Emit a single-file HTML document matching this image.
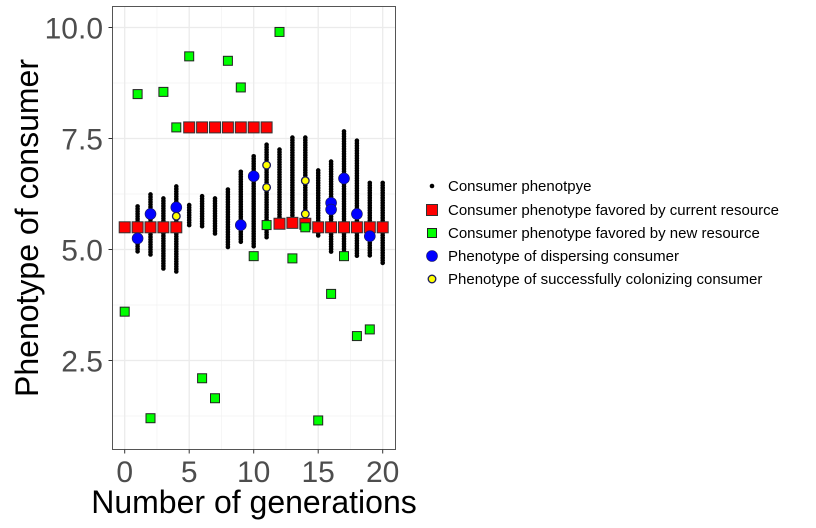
<!DOCTYPE html>
<html><head><meta charset="utf-8"><style>
body{margin:0;background:#fff;}
svg{display:block;font-family:"Liberation Sans",Arial,sans-serif;}
</style></head><body>
<svg id="c" width="816" height="528" viewBox="0 0 816 528"></svg>
<script>
const gens=[0,1,2,3,4,5,6,7,8,9,10,11,12,13,14,15,16,17,18,19,20];
const consMin=[null,4.95,4.84,4.55,4.48,5.5,5.5,5.36,5.02,5.13,5.07,5.25,5.6,5.68,5.75,5.3,4.9,4.82,4.82,4.85,4.66];
const consMax=[null,5.97,6.24,6.15,6.42,6.0,6.2,6.15,6.35,6.75,7.1,7.36,7.25,7.52,7.52,6.78,6.98,7.66,7.45,6.5,6.5];
const currentRes=[5.5,5.5,5.5,5.5,5.5,7.75,7.75,7.75,7.75,7.75,7.75,7.75,5.58,5.6,5.58,5.5,5.5,5.5,5.5,5.5,5.5];
const newRes=[3.6,8.5,1.2,8.55,7.75,9.35,2.1,1.65,9.25,8.65,4.85,5.55,9.9,4.8,5.5,1.15,4.0,4.85,3.05,3.2,null];
const dispGen=[1,2,4,9,10,16,16,17,18,19];
const dispVal=[5.25,5.8,5.95,5.55,6.65,6.05,5.9,6.6,5.8,5.3];
const colGen=[4,11,11,14,14];
const colVal=[5.75,6.9,6.4,6.55,5.8];
const xTicks=[0,5,10,15,20];
const yTicks=[2.5,5.0,7.5,10.0];
const legendLabels=["Consumer phenotpye","Consumer phenotype favored by current resource","Consumer phenotype favored by new resource","Phenotype of dispersing consumer","Phenotype of successfully colonizing consumer"];

const NS="http://www.w3.org/2000/svg";
const svg=document.getElementById('c');
const L=112.5,R=395.5,T=6.5,B=449.5;
const X=v=>124.7+(v-0)*(382.7-124.7)/20;
const Y=v=>27.5+(10-v)*(138.5-27.5)/2.5;
function mk(tag,attrs,parent){const e=document.createElementNS(NS,tag);for(const k in attrs)e.setAttribute(k,attrs[k]);(parent||svg).appendChild(e);return e;}

const grid=mk('g',{});


for(let v=2.5;v<=20;v+=5){mk('line',{x1:X(v),x2:X(v),y1:T,y2:B,stroke:'#f2f2f2','stroke-width':0.7},grid);}
for(let v=1.25;v<=10;v+=2.5){mk('line',{x1:L,x2:R,y1:Y(v),y2:Y(v),stroke:'#f2f2f2','stroke-width':0.7},grid);}
xTicks.forEach(v=>mk('line',{x1:X(v),x2:X(v),y1:T,y2:B,stroke:'#ebebeb','stroke-width':1.3},grid));
yTicks.forEach(v=>mk('line',{x1:L,x2:R,y1:Y(v),y2:Y(v),stroke:'#ebebeb','stroke-width':1.3},grid));

// consumer dots
const dots=mk('g',{});


gens.forEach((g,i)=>{
  if(consMin[i]==null)return;
  const y0=Y(consMax[i]),y1=Y(consMin[i]);
  for(let y=y0;y<=y1+0.1;y+=2.5){mk('circle',{cx:X(g),cy:y,r:2.3,fill:'#000'},dots);}
});
// current resource squares
const cur=mk('g',{});


gens.forEach((g,i)=>{mk('rect',{x:X(g)-5.5,y:Y(currentRes[i])-5.5,width:11,height:11,fill:'#ff0000',stroke:'#333','stroke-width':1},cur);});
const nw=mk('g',{});


gens.forEach((g,i)=>{if(newRes[i]==null)return;mk('rect',{x:X(g)-4.5,y:Y(newRes[i])-4.5,width:9,height:9,fill:'#00ff00',stroke:'#222','stroke-width':1},nw);});
const dp=mk('g',{});


dispGen.forEach((g,i)=>mk('circle',{cx:X(g),cy:Y(dispVal[i]),r:5.5,fill:'#0000ff',stroke:'#1a1a5a','stroke-width':0.6},dp));
const cp=mk('g',{});


colGen.forEach((g,i)=>mk('circle',{cx:X(g),cy:Y(colVal[i]),r:3.8,fill:'#ffff00',stroke:'#1a1a5a','stroke-width':1.3},cp));

const border=mk('rect',{x:L,y:T,width:R-L,height:B-T,fill:'none',stroke:'#555','stroke-width':1});



const ax=mk('g',{});


xTicks.forEach(v=>{
  mk('line',{x1:X(v),x2:X(v),y1:B,y2:B+4,stroke:'#333','stroke-width':1},ax);
  const t=mk('text',{x:X(v),y:482,'text-anchor':'middle','font-size':30,fill:'#4d4d4d'},ax);t.textContent=v;
});
const ay=mk('g',{});


yTicks.forEach(v=>{
  mk('line',{x1:L-4,x2:L,y1:Y(v),y2:Y(v),stroke:'#333','stroke-width':1},ay);
  const t=mk('text',{x:103,y:Y(v)+11,'text-anchor':'end','font-size':30,fill:'#4d4d4d'},ay);t.textContent=v.toFixed(1);
});
const xt=mk('text',{x:254,y:513,'text-anchor':'middle','font-size':32,fill:'#000'});
xt.textContent='Number of generations';


const yt=mk('text',{x:0,y:0,'text-anchor':'middle','font-size':32,fill:'#000',transform:'translate(38,228) rotate(-90)'});
yt.textContent='Phenotype of consumer';



const lg=mk('g',{});


const ly=[186,210,233,256,279];
legendLabels.forEach((lab,i)=>{
  const e=mk('g',{},lg);
  
  
  const cx=432,cy=ly[i];
  if(i==0)mk('circle',{cx:cx,cy:cy,r:2.3,fill:'#000'},e);
  if(i==1)mk('rect',{x:cx-5.5,y:cy-5.5,width:11,height:11,fill:'#ff0000',stroke:'#333'},e);
  if(i==2)mk('rect',{x:cx-4.5,y:cy-4.5,width:9,height:9,fill:'#00ff00',stroke:'#222'},e);
  if(i==3)mk('circle',{cx:cx,cy:cy,r:5.5,fill:'#0000ff',stroke:'#1a1a5a','stroke-width':0.6},e);
  if(i==4)mk('circle',{cx:cx,cy:cy,r:3.8,fill:'#ffff00',stroke:'#1a1a5a','stroke-width':1.3},e);
  const t=mk('text',{x:448,y:cy+5,'font-size':15,fill:'#000'},e);t.textContent=lab;
});
</script>
</body></html>
